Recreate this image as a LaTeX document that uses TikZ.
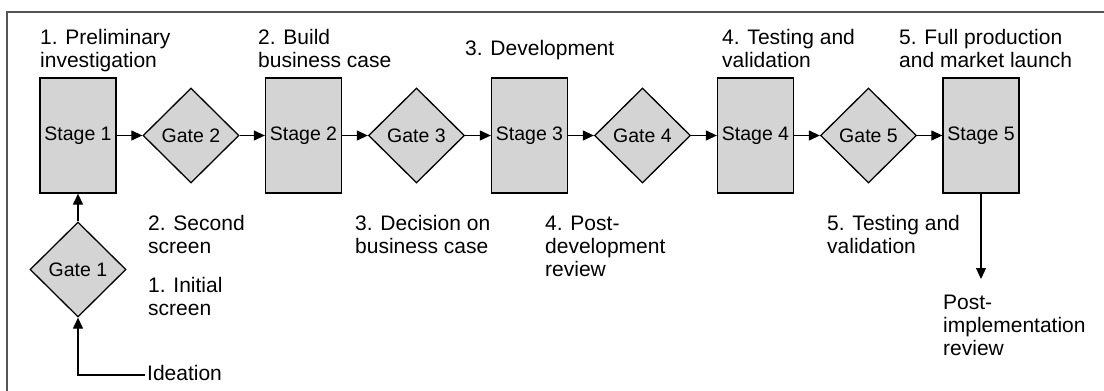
\documentclass[tikz,border=0pt]{standalone}
\usepackage{fontspec}
\setmainfont{Liberation Sans}
\usetikzlibrary{shapes.geometric,arrows.meta}
\definecolor{boxgray}{HTML}{D4D4D4}
\definecolor{framegray}{HTML}{555555}
\begin{document}
\begin{tikzpicture}[x=1pt,y=-1pt,
  stagebox/.style={draw=black, line width=1.3pt, fill=boxgray,
    minimum width=76pt, minimum height=115pt, inner sep=0pt,
    font=\fontsize{19.5}{22}\selectfont},
  gatebox/.style={diamond, draw=black, line width=1.3pt, fill=boxgray,
    minimum width=96pt, minimum height=95pt, inner sep=0pt,
    font=\fontsize{19.5}{22}\selectfont},
  lbl/.style={anchor=north west, align=left, inner sep=0pt,
    font=\fontsize{21}{23}\selectfont},
  flow/.style={-{Triangle[length=11pt,width=10pt]}, line width=1.2pt}]
\useasboundingbox (0,0) rectangle (1104,391);

% open frame: left and top rules
\draw[framegray, line width=2pt] (7,391) -- (7,12) -- (1104,12);

% stages and gates along the main line
\node[stagebox] (s1) at (78,135.5)    {Stage 1};
\node[gatebox]  (g2) at (191,135.5)   {Gate 2};
\node[stagebox] (s2) at (303.5,135.5) {Stage 2};
\node[gatebox]  (g3) at (416.5,135.5) {Gate 3};
\node[stagebox] (s3) at (529.5,135.5) {Stage 3};
\node[gatebox]  (g4) at (642.5,135.5) {Gate 4};
\node[stagebox] (s4) at (755.5,135.5) {Stage 4};
\node[gatebox]  (g5) at (868.5,135.5) {Gate 5};
\node[stagebox] (s5) at (981,135.5)   {Stage 5};

% entry gate below stage 1
\node[gatebox] (g1) at (78,269.5) {Gate 1};
\node[inner xsep=2pt, inner ysep=0pt, text height=10pt, text depth=0pt,
  anchor=west, font=\fontsize{21}{23}\selectfont] (idea) at (145,375) {Ideation};
\coordinate (review) at (981,279);

% stage descriptions
\node[lbl] (t1) at (40,27.9)  {\strut 1. Preliminary\\investigation};
\node[lbl] (t2) at (258,27.9) {\strut 2. Build\\business case};
\node[lbl] (t3) at (465,38.9) {\strut 3. Development};
\node[lbl] (t4) at (722,27.9) {\strut 4. Testing and\\validation};
\node[lbl] (t5) at (899,27.9) {\strut 5. Full production\\and market launch};

% gate descriptions
\node[lbl] (b2) at (148,213.9) {\strut 2. Second\\screen};
\node[lbl] (b1) at (148,275.9) {\strut 1. Initial\\screen};
\node[lbl] (b3) at (355,213.9) {\strut 3. Decision on\\business case};
\node[lbl] (b4) at (545,213.9) {\strut 4. Post-\\development\\review};
\node[lbl] (b5) at (827,213.9) {\strut 5. Testing and\\validation};
\node[lbl] (b6) at (943,292.9) {\strut Post-\\implementation\\review};

% connectors
\draw[flow] (idea.west) -| (g1.south);
\draw[flow] (g1.north) -- (s1.south);
\draw[flow] (s1.east) -- (g2.west);
\draw[flow] (g2.east) -- (s2.west);
\draw[flow] (s2.east) -- (g3.west);
\draw[flow] (g3.east) -- (s3.west);
\draw[flow] (s3.east) -- (g4.west);
\draw[flow] (g4.east) -- (s4.west);
\draw[flow] (s4.east) -- (g5.west);
\draw[flow] (g5.east) -- (s5.west);
\draw[flow] (s5.south) -- (review);
\end{tikzpicture}
\end{document}
